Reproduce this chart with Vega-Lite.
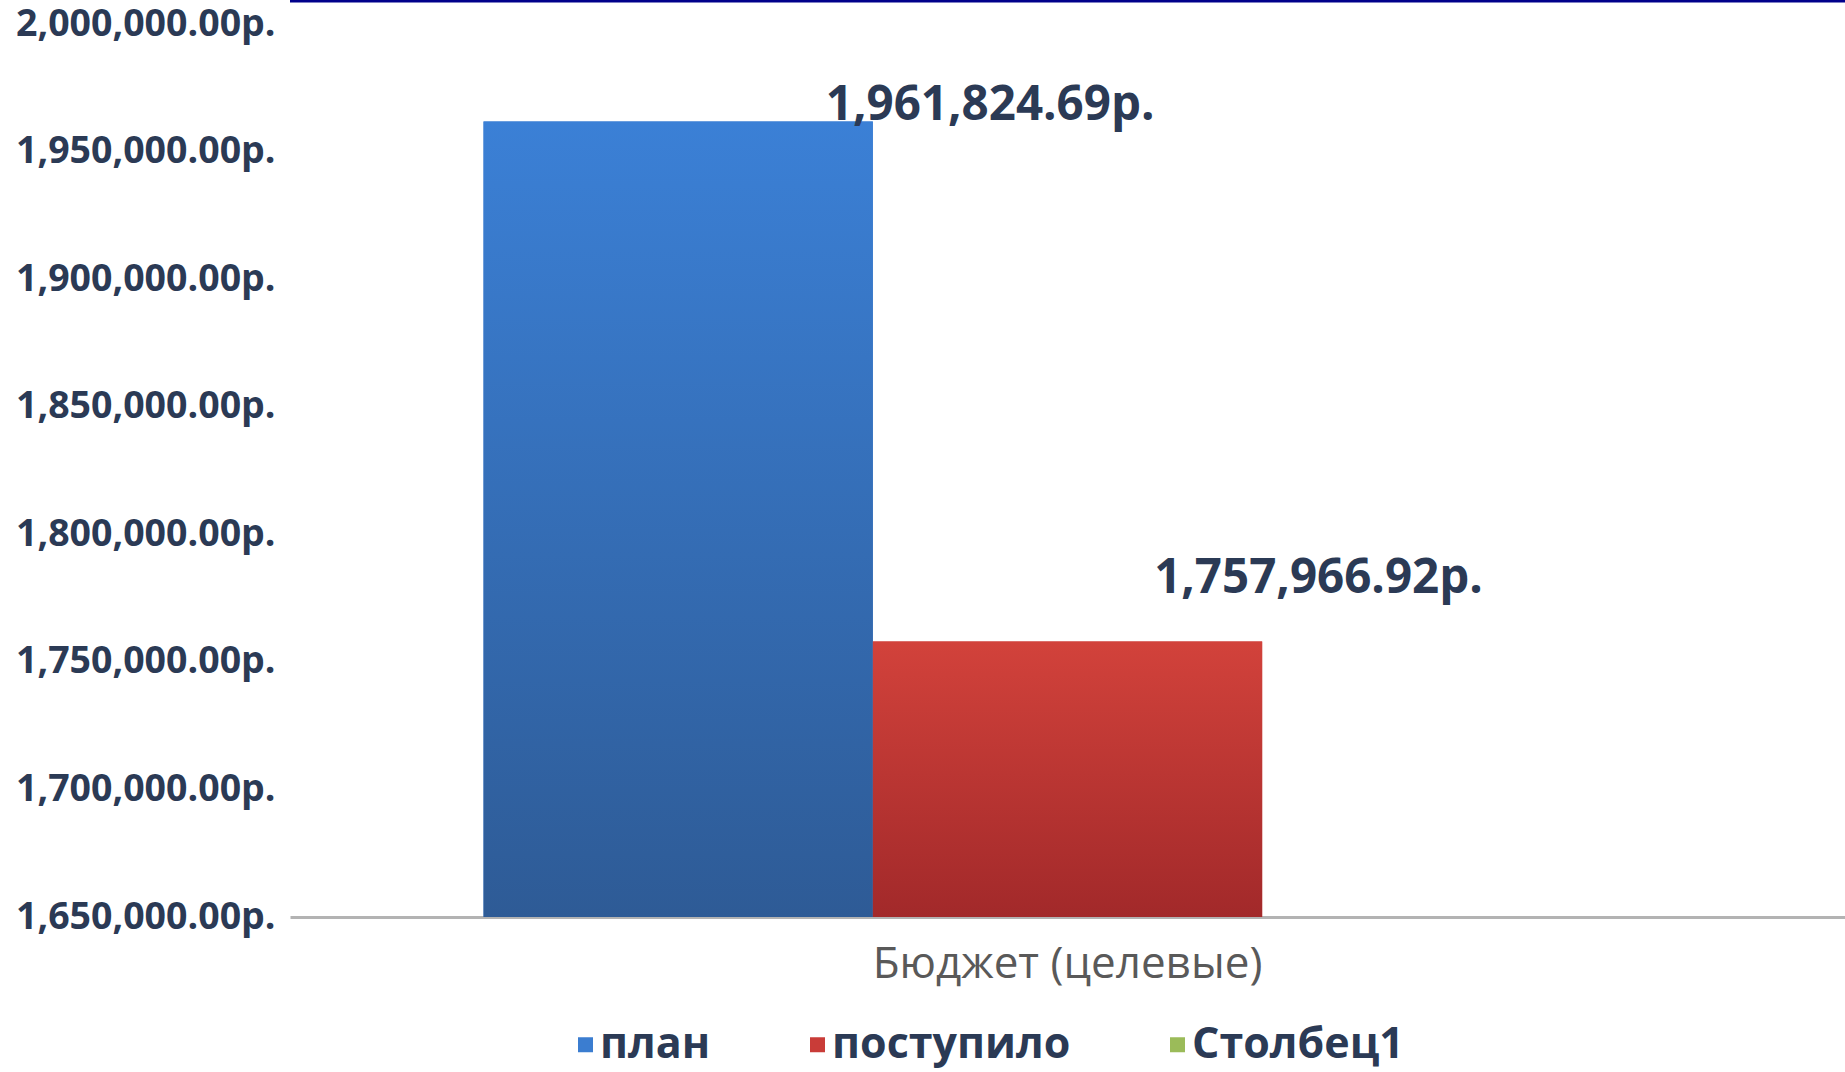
{
  "$schema": "https://vega.github.io/schema/vega-lite/v6.json",
  "width": 1555,
  "height": 893,
  "autosize": {"type": "none"},
  "padding": {"left": 290, "top": 24, "right": 0, "bottom": 155},
  "background": "white",
  "config": {"view": {"stroke": null}, "font": "Open Sans"},
  "data": {"values": [
    {"category": "Бюджет (целевые)", "series": "план", "value": 1961824.69},
    {"category": "Бюджет (целевые)", "series": "поступило", "value": 1757966.92},
    {"category": "Бюджет (целевые)", "series": "Столбец1", "value": null}
  ]},
  "layer": [
    {
      "mark": {"type": "bar"},
      "encoding": {
        "x": {
          "field": "category", "type": "nominal",
          "scale": {"paddingInner": 0, "paddingOuter": 0.1657},
          "axis": {
            "title": null, "labelAngle": 0, "ticks": false, "labelLimit": 0,
            "domain": true, "domainColor": "#b3b3b3", "domainWidth": 3,
            "labelFontSize": 44, "labelFont": "Open Sans", "labelFontWeight": "normal",
            "labelColor": "#595959", "labelPadding": 25
          }
        },
        "xOffset": {
          "field": "series", "type": "nominal",
          "scale": {"domain": ["план", "поступило", "Столбец1"], "paddingInner": 0, "paddingOuter": 0}
        },
        "y": {
          "field": "value", "type": "quantitative",
          "scale": {"domain": [1650000, 2000000], "zero": false, "nice": false},
          "axis": {
            "title": null, "domain": false, "ticks": false, "grid": false, "labelLimit": 0,
            "values": [1650000, 1700000, 1750000, 1800000, 1850000, 1900000, 1950000, 2000000],
            "labelExpr": "format(datum.value, ',.2f') + 'р.'",
            "labelFontSize": 37.5, "labelFont": "Open Sans", "labelFontWeight": "bold",
            "labelColor": "#2b3a55", "labelPadding": 15
          }
        },
        "y2": {"datum": 1650000},
        "color": {
          "field": "series", "type": "nominal",
          "scale": {"domain": ["план", "поступило", "Столбец1"], "range": ["#3b7dd0", "#c93c38", "#9bbb59"]},
          "legend": {
            "title": null, "orient": "none", "direction": "horizontal",
            "legendX": 274, "legendY": 999, "labelLimit": 0,
            "symbolType": "square", "symbolSize": 225, "symbolStrokeWidth": 0,
            "labelFontSize": 43, "labelFont": "Open Sans", "labelFontWeight": "bold",
            "labelColor": "#2b3a55", "columnPadding": 85, "labelOffset": -7
          }
        }
      }
    },
    {
      "mark": {"type": "bar"},
      "encoding": {
        "x": {"field": "category", "type": "nominal"},
        "xOffset": {"field": "series", "type": "nominal"},
        "y": {"field": "value", "type": "quantitative"},
        "y2": {"datum": 1650000},
        "fill": {
          "condition": {
            "test": "datum.series === 'план'",
            "value": {"gradient": "linear", "x1": 0, "y1": 0, "x2": 0, "y2": 1,
              "stops": [{"offset": 0, "color": "#3b80d6"}, {"offset": 1, "color": "#2e5b96"}]}
          },
          "value": {"gradient": "linear", "x1": 0, "y1": 0, "x2": 0, "y2": 1,
            "stops": [{"offset": 0, "color": "#d2423b"}, {"offset": 1, "color": "#a2292a"}]}
        }
      }
    },
    {
      "transform": [
        {"filter": "datum.series === 'план'"},
        {"calculate": "format(datum.value, ',.2f') + 'р.'", "as": "label"}
      ],
      "mark": {"type": "text", "align": "center", "baseline": "middle", "dx": 312, "dy": -15,
        "fontSize": 47.5, "font": "Open Sans", "fontWeight": "bold", "color": "#2b3a55"},
      "encoding": {
        "x": {"field": "category", "type": "nominal"},
        "xOffset": {"field": "series", "type": "nominal"},
        "y": {"field": "value", "type": "quantitative"},
        "text": {"field": "label"}
      }
    },
    {
      "transform": [
        {"filter": "datum.series === 'поступило'"},
        {"calculate": "format(datum.value, ',.2f') + 'р.'", "as": "label"}
      ],
      "mark": {"type": "text", "align": "center", "baseline": "middle", "dx": 251, "dy": -63,
        "fontSize": 47.5, "font": "Open Sans", "fontWeight": "bold", "color": "#2b3a55"},
      "encoding": {
        "x": {"field": "category", "type": "nominal"},
        "xOffset": {"field": "series", "type": "nominal"},
        "y": {"field": "value", "type": "quantitative"},
        "text": {"field": "label"}
      }
    },
    {
      "data": {"values": [{}]},
      "mark": {"type": "rule", "color": "#00008b", "strokeWidth": 3},
      "encoding": {
        "y": {"datum": 2009000, "type": "quantitative"}
      }
    }
  ]
}
